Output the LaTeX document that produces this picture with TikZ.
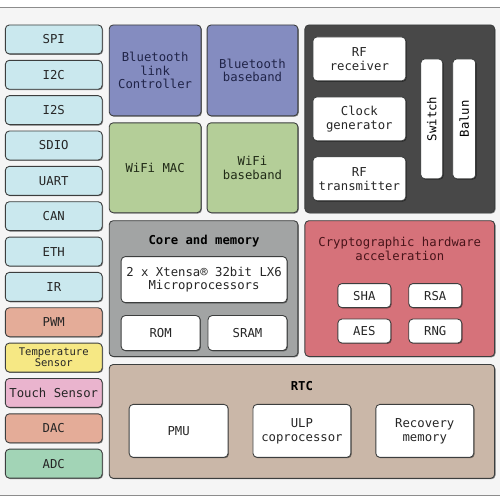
\documentclass[tikz,border=0pt]{standalone}
\usepackage{fontspec}
\setmonofont{DejaVu Sans Mono}
\usetikzlibrary{shadows}
\definecolor{ioblue}{RGB}{202,232,238}
\definecolor{btblue}{RGB}{132,140,192}
\definecolor{wfgreen}{RGB}{180,206,152}
\definecolor{rfdark}{RGB}{72,72,72}
\definecolor{coregray}{RGB}{162,164,164}
\definecolor{cryptored}{RGB}{214,114,122}
\definecolor{rtctan}{RGB}{202,183,168}
\definecolor{iosalmon}{RGB}{228,172,152}
\definecolor{ioyellow}{RGB}{246,232,132}
\definecolor{iopink}{RGB}{234,180,206}
\definecolor{iogreen}{RGB}{162,212,182}
\definecolor{edge}{RGB}{60,62,62}
\definecolor{bttext}{RGB}{32,36,72}
\definecolor{wftext}{RGB}{32,42,22}
\definecolor{crtext}{RGB}{72,20,26}

\begin{document}
\begin{tikzpicture}[x=.2mm,y=-.2mm,
    font=\ttfamily\fontsize{7}{7.9}\selectfont,
    blk/.style={draw=edge,line width=.5pt,rounded corners=.8mm,align=center,inner sep=0pt,
      drop shadow={shadow xshift=.5pt,shadow yshift=-.5pt,opacity=.45,fill=black}},
    io/.style={blk,minimum width=97*.2mm,minimum height=29*.2mm,text=black!85},
    inner/.style={blk,fill=white,text=black!85}]
    % page
    \fill[black!4] (0,7) rectangle (500,496);
    \draw[black!45] (0,7)--(500,7); \draw[black!45] (0,496)--(500,496);
    % peripherals
    \node[io,fill=ioblue] (spi) at (53.5,39.5) {SPI};
    \node[io,fill=ioblue] (i2c) at (53.5,74.9) {I2C};
    \node[io,fill=ioblue] (i2s) at (53.5,110.3) {I2S};
    \node[io,fill=ioblue] (sdio) at (53.5,145.7) {SDIO};
    \node[io,fill=ioblue] (uart) at (53.5,181.1) {UART};
    \node[io,fill=ioblue] (can) at (53.5,216.5) {CAN};
    \node[io,fill=ioblue] (eth) at (53.5,251.9) {ETH};
    \node[io,fill=ioblue] (ir) at (53.5,287.3) {IR};
    \node[io,fill=iosalmon] (pwm) at (53.5,322.7) {PWM};
    \node[io,fill=ioyellow,font=\ttfamily\fontsize{6}{6.4}\selectfont] (temp) at (53.5,358.1) {Temperature\\Sensor};
    \node[io,fill=iopink] (touch) at (53.5,393.5) {Touch Sensor};
    \node[io,fill=iosalmon] (dac) at (53.5,428.9) {DAC};
    \node[io,fill=iogreen] (adc) at (53.5,464.3) {ADC};
    % radio
    \node[blk,fill=btblue,text=bttext,minimum width=92*.2mm,minimum height=91*.2mm] (btlc) at (155,70.5) {Bluetooth\\link\\Controller};
    \node[blk,fill=btblue,text=bttext,minimum width=91*.2mm,minimum height=91*.2mm] (btbb) at (252.5,70.5) {Bluetooth\\baseband};
    \node[blk,fill=wfgreen,text=wftext,minimum width=92*.2mm,minimum height=90*.2mm] (wfmac) at (155,168) {WiFi MAC};
    \node[blk,fill=wfgreen,text=wftext,minimum width=91*.2mm,minimum height=90*.2mm] (wfbb) at (252.5,168) {WiFi\\baseband};
    \node[blk,fill=rfdark,minimum width=190*.2mm,minimum height=188*.2mm] (rf) at (400,119) {};
    \node[inner,minimum width=93*.2mm,minimum height=44*.2mm] (rfrx) at (359.5,59) {RF\\receiver};
    \node[inner,minimum width=93*.2mm,minimum height=44*.2mm] (clk) at (359.5,119) {Clock\\generator};
    \node[inner,minimum width=93*.2mm,minimum height=44*.2mm] (rftx) at (359.5,179) {RF\\transmitter};
    \node[inner,minimum width=22*.2mm,minimum height=120*.2mm] (sw) at (432,119) {};
    \node[rotate=90] (swlbl) at (sw.center) {Switch};
    \node[inner,minimum width=23*.2mm,minimum height=120*.2mm] (balun) at (464.5,119) {};
    \node[rotate=90] (balunlbl) at (balun.center) {Balun};
    % core and memory
    \node[blk,fill=coregray,minimum width=189*.2mm,minimum height=136*.2mm] (core) at (203.5,289) {};
    \node[font=\ttfamily\bfseries\fontsize{7}{7.9}\selectfont] (corelbl) at (204,241.5) {Core and memory};
    \node[inner,minimum width=166*.2mm,minimum height=46*.2mm] (cpu) at (204,280) {2 x Xtensa® 32bit LX6\\Microprocessors};
    \node[inner,minimum width=79*.2mm,minimum height=35*.2mm] (rom) at (160.5,333.5) {ROM};
    \node[inner,minimum width=79*.2mm,minimum height=35*.2mm] (sram) at (247.5,333.5) {SRAM};
    % crypto
    \node[blk,fill=cryptored,minimum width=190*.2mm,minimum height=136*.2mm] (crypto) at (400,289) {};
    \node[text=crtext,align=center] (cryptolbl) at (400,249) {Cryptographic hardware\\acceleration};
    \node[inner,minimum width=53*.2mm,minimum height=24*.2mm] (sha) at (364.5,296) {SHA};
    \node[inner,minimum width=53*.2mm,minimum height=24*.2mm] (rsa) at (435.5,296) {RSA};
    \node[inner,minimum width=53*.2mm,minimum height=24*.2mm] (aes) at (364.5,331.5) {AES};
    \node[inner,minimum width=53*.2mm,minimum height=24*.2mm] (rng) at (435.5,331.5) {RNG};
    % rtc
    \node[blk,fill=rtctan,minimum width=386*.2mm,minimum height=114*.2mm] (rtc) at (302,422) {};
    \node[font=\ttfamily\bfseries\fontsize{7}{7.9}\selectfont] (rtclbl) at (302,387) {RTC};
    \node[inner,minimum width=99*.2mm,minimum height=53*.2mm] (pmu) at (178.5,431.5) {PMU};
    \node[inner,minimum width=98*.2mm,minimum height=53*.2mm] (ulp) at (302,431.5) {ULP\\coprocessor};
    \node[inner,minimum width=98*.2mm,minimum height=53*.2mm] (rmem) at (425,431.5) {Recovery\\memory};
    \useasboundingbox (0,0) rectangle (500,500);
  \end{tikzpicture}
\end{document}
